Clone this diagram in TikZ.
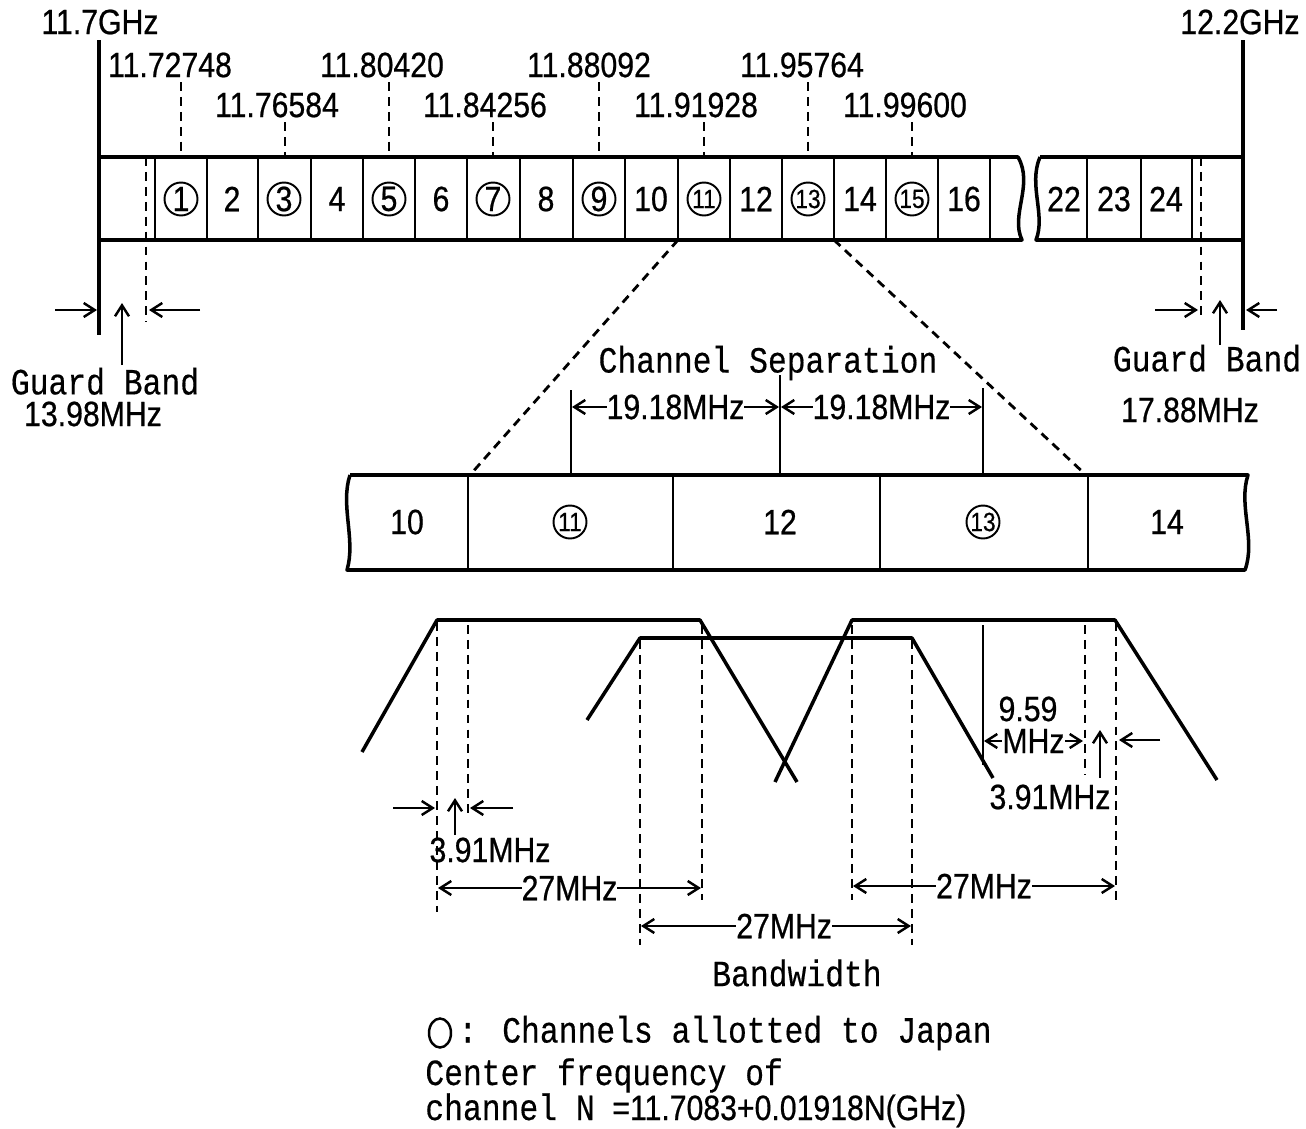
\documentclass[tikz,border=0pt]{standalone}
\usepackage{fontspec}
\setmainfont{Liberation Sans}
\newfontfamily\numfont[FakeStretch=0.86, FakeBold=0.6]{Liberation Sans}
\newfontfamily\monofont[FakeStretch=0.85, FakeBold=0.4]{Liberation Mono}
\usetikzlibrary{arrows.meta, positioning, calc, shapes.geometric}
\newcommand{\numsize}{\fontsize{20}{22}\selectfont}
\newcommand{\monosize}{\fontsize{21}{23}\selectfont}

\begin{document}
\begin{tikzpicture}[x=0.02cm, y=-0.02cm,
    band/.style={line width=2pt, line join=round},
    cellline/.style={line width=1.6pt},
    dashline/.style={line width=1.6pt, dash pattern=on 5pt off 3.5pt},
    num/.style={font=\numfont\numsize, inner sep=0pt},
    mono/.style={font=\monofont\monosize, inner sep=0pt},
    chan/.style={font=\numfont\numsize, inner sep=0pt},
    chanc/.style={draw, circle, line width=1.1pt, minimum size=0.66cm, inner sep=0pt, font=\numfont\fontsize{20}{20}\selectfont},
    chancc/.style={chanc, font=\numfont\fontsize{15}{15}\selectfont},
    dimarrow/.style={line width=1.4pt, -{Straight Barb[length=2.2mm, width=2.8mm, line width=1.4pt]}},
    dimboth/.style={line width=1.4pt, {Straight Barb[length=2.2mm, width=2.8mm, line width=1.4pt]}-{Straight Barb[length=2.2mm, width=2.8mm, line width=1.4pt]}}
]
    \useasboundingbox (0,0) rectangle (1306,1129);

    % whole band 11.7 - 12.2 GHz
    \coordinate (bandL) at (99,157);
    \coordinate (bandR) at (1243,157);
    \draw[band] (99,157) -- (1018,157) .. controls (1034,185) and (1010,215) .. (1022,240) -- (99,240);
    \draw[band] (1040,157) .. controls (1028,185) and (1046,215) .. (1036,240) -- (1243,240);
    \draw[band] (1040,157) -- (1243,157);
    \draw[band] (99,40) -- (99,335);
    \draw[band] (1243,40) -- (1243,330);
    \foreach \x in {155,207,258,311,363,415,467,520,573,625,678,730,782,834,886,938,990,1087,1141,1192}
        \draw[cellline] (\x,157) -- (\x,240);
    \draw[dashline] (146,157) -- (146,322);
    \draw[dashline] (1201,157) -- (1201,318);

    \foreach \n/\x/\s in {1/181/chanc, 2/232/chan, 3/284/chanc, 4/337/chan, 5/389/chanc, 6/441/chan,
        7/493/chanc, 8/546/chan, 9/599/chanc, 10/651/chan, 11/704/chancc, 12/756/chan, 13/808/chancc,
        14/860/chan, 15/912/chancc, 16/964/chan, 22/1064/chan, 23/1114/chan, 24/1166/chan}
        \node[\s] (ch\n) at (\x,199) {\n};

    \node[num] (fLo) at (100,22) {11.7GHz};
    \node[num] (fHi) at (1240,22) {12.2GHz};
    \foreach \name/\x/\y/\t in {a/170/65/11.72748, b/277/105/11.76584, c/382/65/11.80420, d/485/105/11.84256,
        e/589/65/11.88092, f/696/105/11.91928, g/802/65/11.95764, h/905/105/11.99600}
        \node[num] (fc\name) at (\x,\y) {\t};
    \foreach \x/\y in {181/82, 285/122, 389/82, 493/122, 599/82, 704/122, 808/82, 912/122}
        \draw[dashline] (\x,\y) -- (\x,157);

    % guard bands
    \draw[dimarrow] (55,310) -- (97,310);
    \draw[dimarrow] (200,310) -- (149,310);
    \draw[dimarrow] (122,365) -- (122,303);
    \node[mono, text depth=0pt] (gbL) at (105,381) {Guard Band};
    \node[num] (gbLv) at (93,414) {13.98MHz};
    \draw[dimarrow] (1155,310) -- (1198,310);
    \draw[dimarrow] (1277,310) -- (1246,310);
    \draw[dimarrow] (1220,345) -- (1220,300);
    \node[mono, text depth=0pt] (gbR) at (1207,358) {Guard Band};
    \node[num] (gbRv) at (1190,410) {17.88MHz};

    % enlarged part
    \draw[dashline] (678,240) -- (470,475);
    \draw[dashline] (834,240) -- (1086,475);
    \draw[band] (350,475) -- (1248,475) .. controls (1238,505) and (1256,540) .. (1245,570) -- (347,570)
        .. controls (356,540) and (340,505) .. (350,475);
    \foreach \x in {468,673,880,1088}
        \draw[cellline] (\x,475) -- (\x,570);
    \node[chan] (zc10) at (407,522) {10};
    \node[chancc] (zc11) at (570,522) {11};
    \node[chan] (zc12) at (780,522) {12};
    \node[chancc] (zc13) at (983,522) {13};
    \node[chan] (zc14) at (1167,522) {14};

    % channel separation
    \node[mono] (sep) at (768,363) {Channel Separation};
    \draw[cellline] (571,390) -- (571,475);
    \draw[cellline] (780,375) -- (780,475);
    \draw[cellline] (983,388) -- (983,475);
    \draw[dimboth] (572,407) -- (779,407) node[num, midway, fill=white] (sepA) {19.18MHz};
    \draw[dimboth] (781,407) -- (982,407) node[num, midway, fill=white] (sepB) {19.18MHz};

    % spectra of channels 11, 12, 13
    \draw[band] (362,752) -- (437,620) -- (700,620) -- (797,782);
    \draw[band] (587,720) -- (640,638) -- (912,638) -- (993,778);
    \draw[band] (775,782) -- (852,620) -- (1115,620) -- (1217,780);
    \foreach \x/\ya/\yb in {437/622/912, 468/625/815, 640/640/945, 702/625/900,
        852/625/900, 912/640/945, 1085/625/775, 1116/622/905}
        \draw[dashline] (\x,\ya) -- (\x,\yb);
    \draw[cellline] (983,625) -- (983,765);

    % dimensions
    \node[num] (half) at (1028,709) {9.59};
    \draw[dimboth] (984,741) -- (1083,741) node[num, midway, fill=white] (halfu) {MHz};
    \draw[dimarrow] (1100,778) -- (1100,730);
    \draw[dimarrow] (1160,740) -- (1119,740);
    \node[num] (rollR) at (1050,797) {3.91MHz};
    \draw[dimarrow] (393,808) -- (435,808);
    \draw[dimarrow] (455,835) -- (455,798);
    \draw[dimarrow] (513,808) -- (470,808);
    \node[num] (rollL) at (490,850) {3.91MHz};

    \draw[dimboth] (438,888) -- (701,888) node[num, pos=0.5, fill=white] (bwA) {27MHz};
    \draw[dimboth] (641,926) -- (911,926) node[num, pos=0.53, fill=white] (bwB) {27MHz};
    \draw[dimboth] (853,886) -- (1115,886) node[num, pos=0.5, fill=white] (bwC) {27MHz};
    \node[mono] (bw) at (797,973) {Bandwidth};

    % legend
    \node[draw, ellipse, line width=1.4pt, minimum width=0.44cm, minimum height=0.58cm, inner sep=0pt] (jp) at (440,1033) {};
    \node[mono, anchor=west] (jptxt) at (458,1033) {: Channels allotted to Japan};
    \node[mono, anchor=base west] (cf1) at (425,1085) {Center frequency of};
    \node[mono, anchor=base west, text height=0.62em] (cf2) at (425,1120) {channel N};
    \node[num, anchor=base west] (cf3) at (612,1120) {=11.7083+0.01918N(GHz)};
\end{tikzpicture}
\end{document}
